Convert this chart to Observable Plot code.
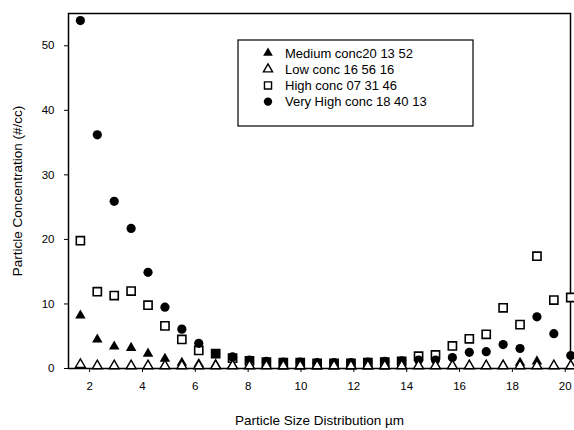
<!DOCTYPE html>
<html>
<head>
<meta charset="utf-8">
<script src="https://cdn.jsdelivr.net/npm/d3@7"></script>
<script src="https://cdn.jsdelivr.net/npm/@observablehq/plot@0.6"></script>
<style>
  html, body { margin: 0; padding: 0; background: #fff; }
  #chart svg { display: block; }
</style>
</head>
<body>
<div id="chart"></div>
<script>
// Particle size bins (µm)
const sizes = [1.65, 2.29, 2.93, 3.57, 4.21, 4.85, 5.49, 6.13, 6.77, 7.41,
               8.05, 8.69, 9.33, 9.97, 10.61, 11.25, 11.89, 12.53, 13.17, 13.81,
               14.45, 15.09, 15.73, 16.37, 17.01, 17.65, 18.29, 18.93, 19.57, 20.21];

const medium   = [8.2, 4.5, 3.4, 3.2, 2.3, 1.5, 0.9, 0.7, 0.6, 0.5,
                  0.4, 0.4, 0.3, 0.3, 0.3, 0.3, 0.3, 0.3, 0.3, 0.4,
                  0.4, 0.4, 0.4, 0.4, 0.4, 0.5, 0.9, 1.1, 0.4, 0.4];
const low      = [0.6, 0.4, 0.4, 0.4, 0.4, 0.4, 0.4, 0.4, 0.4, 0.4,
                  0.4, 0.4, 0.4, 0.4, 0.4, 0.4, 0.4, 0.4, 0.4, 0.4,
                  0.4, 0.4, 0.4, 0.4, 0.4, 0.4, 0.4, 0.4, 0.4, 0.4];
const high     = [19.8, 11.9, 11.3, 12.0, 9.8, 6.6, 4.5, 2.8, 2.3, 1.6,
                  1.2, 1.0, 0.9, 0.9, 0.8, 0.8, 0.8, 0.9, 1.0, 1.1,
                  1.9, 2.1, 3.5, 4.6, 5.3, 9.4, 6.8, 17.4, 10.6, 11.0];
const veryHigh = [53.9, 36.2, 25.9, 21.7, 14.9, 9.5, 6.1, 3.9, 2.3, 1.8,
                  1.3, 1.1, 1.0, 1.0, 0.9, 0.9, 0.9, 1.0, 1.1, 1.2,
                  1.3, 1.3, 1.7, 2.5, 2.6, 3.7, 3.1, 8.0, 5.4, 2.0];

const seriesNames = ["Medium conc20 13 52", "Low conc 16 56 16", "High conc 07 31 46", "Very High conc 18 40 13"];
const yTicks = [0, 10, 20, 30, 40, 50];
const xTicks = [2, 4, 6, 8, 10, 12, 14, 16, 18, 20];

const rows = (vals) => sizes.map((s, i) => ({size: s, value: vals[i]}));

const font = "'Liberation Sans', Arial, Helvetica, sans-serif";

const plot = Plot.plot({
  width: 574,
  height: 430,
  marginLeft: 68,
  marginRight: 4,
  marginTop: 13,
  marginBottom: 62,
  style: {fontFamily: font, fontSize: "11.5px", color: "#000", background: "#fff"},
  x: {domain: [1.2, 20.2], ticks: xTicks, tickSize: 4, tickPadding: 9,
      label: "Particle Size Distribution µm", labelAnchor: "center", labelArrow: "none", labelOffset: 56},
  y: {domain: [0, 55], ticks: yTicks, tickSize: 4, tickPadding: 10,
      label: "Particle Concentration (#/cc)", labelAnchor: "center", labelArrow: "none", labelOffset: 56},
  marks: [
    Plot.frame({stroke: "#000", strokeWidth: 1.5}),
    Plot.dot(rows(high), {x: "size", y: "value", symbol: "square", r: 4.6, stroke: "#000", strokeWidth: 1.6, fill: "#fff"}),
    Plot.dot(rows(veryHigh), {x: "size", y: "value", symbol: "circle", r: 4.6, fill: "#000", stroke: "none"}),
    Plot.dot(rows(medium), {x: "size", y: "value", symbol: "triangle", r: 3.9, fill: "#000", stroke: "none"}),
    Plot.dot(rows(low), {x: "size", y: "value", symbol: "triangle", r: 3.7, fill: "#fff", stroke: "#000", strokeWidth: 1.4})
  ]
});

// Enlarge axis label font
d3.select(plot).selectAll("g[aria-label='x-axis label'] text, g[aria-label='y-axis label'] text")
  .style("font-size", "13.5px");

// Legend drawn inside the SVG
const svg = d3.select(plot);
const lg = svg.append("g").attr("font-family", font).attr("font-size", "13px").attr("text-anchor", "start");
lg.append("rect").attr("x", 238).attr("y", 40).attr("width", 235).attr("height", 86)
  .attr("fill", "#fff").attr("stroke", "#000").attr("stroke-width", 1.2);
const legendSymbols = [
  {sym: d3.symbolTriangle, r: 3.6, fill: "#000", stroke: "none"},
  {sym: d3.symbolTriangle, r: 3.4, fill: "#fff", stroke: "#000"},
  {sym: d3.symbolSquare, r: 4.0, fill: "#fff", stroke: "#000"},
  {sym: d3.symbolCircle, r: 4.2, fill: "#000", stroke: "none"}
];
seriesNames.forEach((name, i) => {
  const cy = 53 + i * 16.2;
  const s = legendSymbols[i];
  lg.append("path").attr("transform", `translate(268,${cy})`)
    .attr("d", d3.symbol(s.sym, Math.PI * s.r * s.r)())
    .attr("fill", s.fill).attr("stroke", s.stroke).attr("stroke-width", 1.4);
  lg.append("text").attr("x", 285).attr("y", cy).attr("dy", "0.35em").text(name);
});

document.getElementById("chart").appendChild(plot);
</script>
</body>
</html>
